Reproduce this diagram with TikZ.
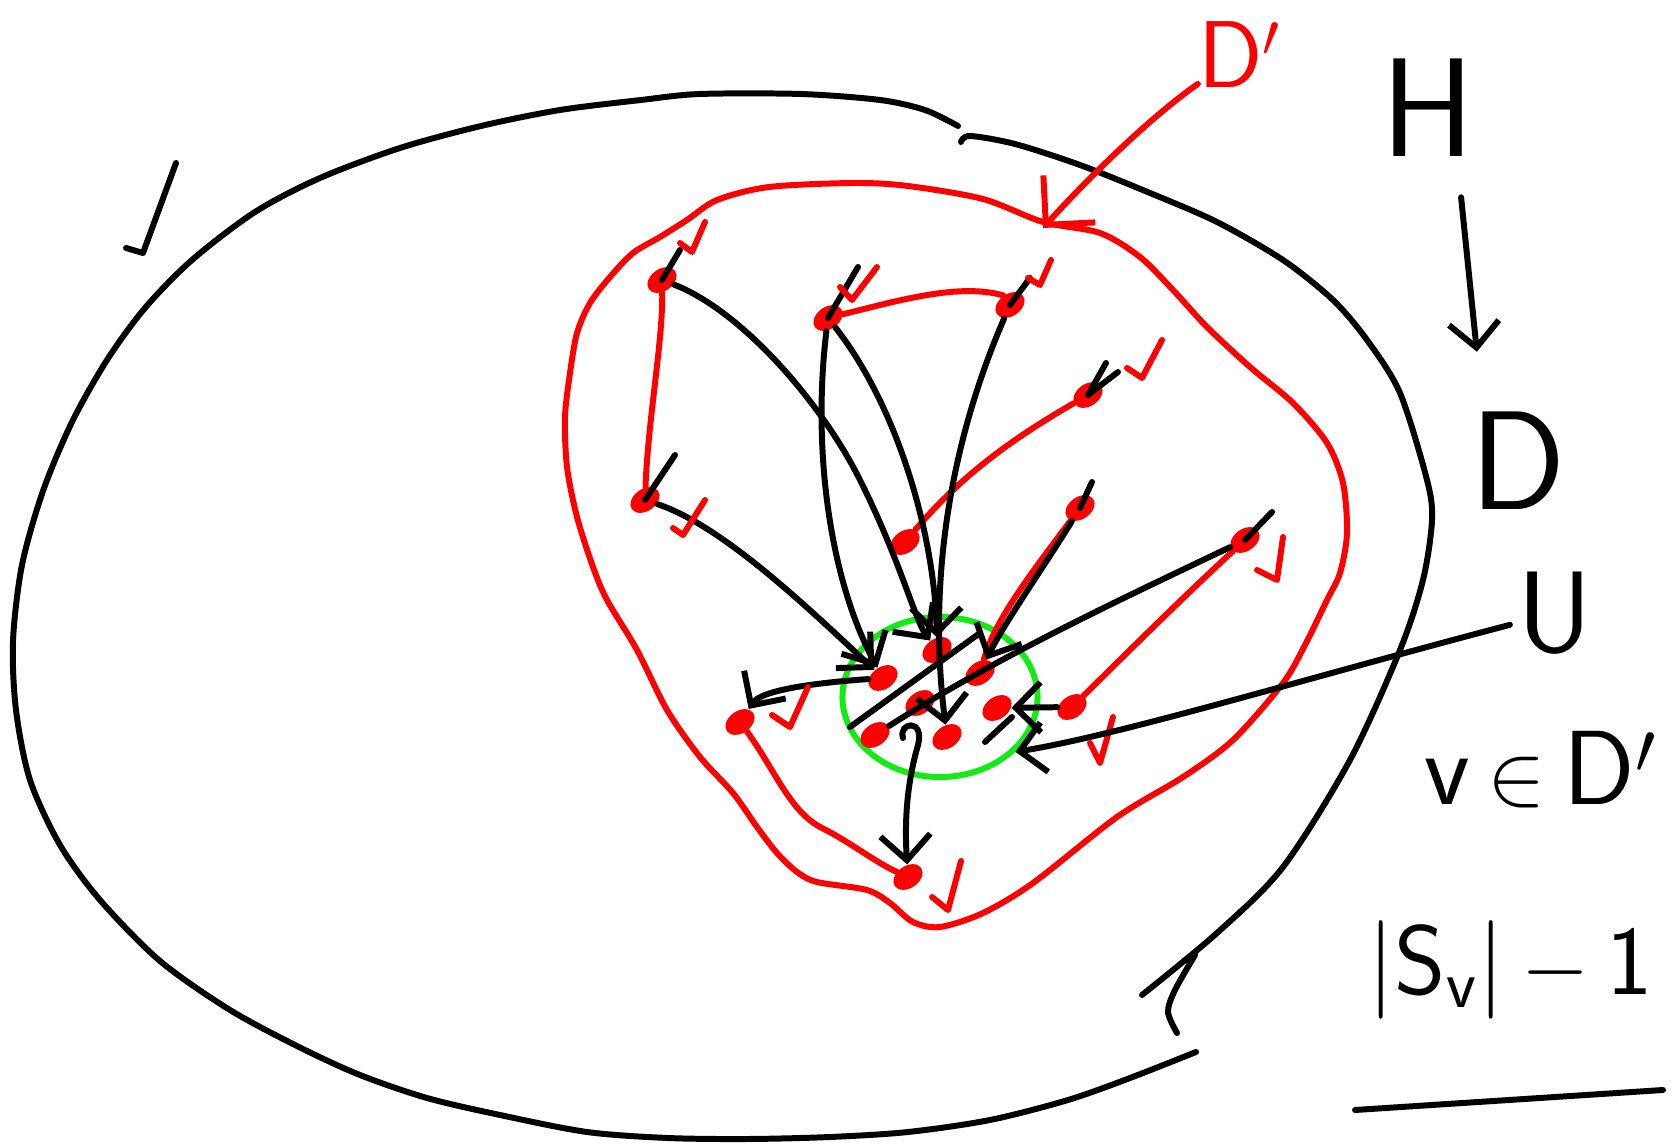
\documentclass[tikz,border=0pt]{standalone}
\usetikzlibrary{shapes.geometric, arrows.meta}
\definecolor{inkgreen}{RGB}{20,235,20}

\begin{document}
\begin{tikzpicture}[
    x=0.01cm, y=-0.01cm,
    ink/.style={line width=1.7pt, line cap=round, line join=round},
    link/.style={ink, -{Straight Barb[length=2.5mm, width=5mm]}},
    rlink/.style={ink, red, -{Straight Barb[length=3.5mm, width=7mm]}},
    vtx/.style={ellipse, fill=red, minimum width=0.32cm, minimum height=0.22cm, inner sep=0pt, rotate=35},
    ring/.style={ellipse, draw=inkgreen, line width=1.7pt, minimum width=1.95cm, minimum height=1.6cm, inner sep=0pt},
    hand/.style={inner sep=0pt, font=\sffamily}
]
\useasboundingbox (0,0) rectangle (1675,1146);

% outer set
\draw[ink] plot[smooth] coordinates {(958,126) (925,110) (880,100) (801,94) (700,94) (641,100) (560,110) (481,126) (400,148) (320,178) (255,212) (192,260) (145,308) (107,360) (72,422) (43,491) (22,565) (13,641) (16,710) (30,780) (60,845) (100,900) (160,961) (230,1010) (299,1047) (360,1075) (427,1098) (500,1115) (587,1132) (668,1138) (748,1139) (830,1137) (908,1132) (990,1120) (1068,1100) (1130,1078) (1196,1052)};
\draw[ink] plot[smooth] coordinates {(961,142) (970,136) (1015,144) (1080,165) (1150,193) (1217,222) (1283,260) (1333,300) (1367,340) (1400,393) (1427,480) (1432,520) (1423,580) (1400,650) (1350,760) (1283,867) (1217,933) (1142,995)};
\draw[ink] plot[smooth] coordinates {(1195,955) (1175,990) (1168,1012) (1177,1033)};
\draw[ink] (126,248) -- (143,253) -- (176,163);

% red region
\draw[ink, red] plot[smooth cycle] coordinates {(717,200) (769,187) (854,183) (908,186) (983,199) (1043,222) (1100,233) (1140,257) (1173,290) (1207,327) (1250,367) (1293,403) (1327,443) (1343,483) (1347,533) (1340,573) (1327,600) (1305,645) (1283,683) (1233,740) (1183,777) (1117,817) (1033,883) (983,913) (940,927) (913,922) (890,903) (867,890) (817,882) (797,872) (777,853) (757,827) (733,793) (700,757) (667,710) (637,650) (607,600) (593,567) (577,517) (567,467) (565,417) (570,373) (577,333) (590,303) (610,277) (633,253) (660,237) (687,220)};

% green core
\node[ring] (core) at (940,697) {};

% vertices
\node[vtx] (o1) at (662,280) {};
\node[vtx] (o2) at (828,318) {};
\node[vtx] (o3) at (1010,305) {};
\node[vtx] (o4) at (1088,395) {};
\node[vtx] (o5) at (645,500) {};
\node[vtx] (o6) at (905,542) {};
\node[vtx] (o7) at (1080,508) {};
\node[vtx] (o8) at (1245,540) {};
\node[vtx] (o9) at (1072,707) {};
\node[vtx] (o10) at (740,722) {};
\node[vtx] (o11) at (908,877) {};
\node[vtx] (c1) at (883,678) {};
\node[vtx] (c2) at (937,650) {};
\node[vtx] (c3) at (980,673) {};
\node[vtx] (c4) at (997,708) {};
\node[vtx] (c5) at (920,703) {};
\node[vtx] (c6) at (875,735) {};
\node[vtx] (c7) at (947,737) {};
\coordinate (hk) at (903,738);
\coordinate (redtip) at (1043,228);

% red edges
\draw[ink, red] (o1) .. controls (663,340) and (648,420) .. (o5);
\draw[ink, red] (o2) .. controls (900,300) and (960,283) .. (o3.north);
\draw[ink, red] (o6) .. controls (960,477) and (1010,440) .. (o4);
\draw[ink, red] (o7) .. controls (1030,575) and (995,620) .. (c3);
\draw[ink, red] (o8) .. controls (1180,600) and (1130,650) .. (o9);
\draw[ink, red] (o10) .. controls (775,770) and (790,812) .. (822,828) .. controls (850,842) and (875,862) .. (o11);

% black edges into the core
\draw[link] (o1) .. controls (740,310) and (820,400) .. (860,480) .. controls (900,560) and (915,620) .. (c2);
\draw[link] (o2) .. controls (812,450) and (830,580) .. (c1);
\draw[link] (o2) .. controls (900,410) and (935,540) .. (c2);
\draw[link] (o3) .. controls (960,420) and (925,560) .. (c7);
\draw[link] (o5) .. controls (720,525) and (800,600) .. (c1);
\draw[link] (o7) .. controls (1045,565) and (1003,625) .. (c3);
\draw[ink] (o8) .. controls (1130,595) and (1000,655) .. (c6);
\draw[link] (o9) -- (c4);
\draw[link] (c1) .. controls (800,684) and (760,692) .. (o10);
\draw[link] (hk) .. controls (898,722) and (925,718) .. (918,745) .. controls (905,790) and (905,830) .. (o11);
\draw[ink] (850,727) -- (980,633);
\draw[ink] (985,742) -- (1012,717);

% short black strokes at the vertices
\draw[ink] (o1.center) -- (680,250);
\draw[ink] (o2.center) -- (858,267);
\draw[ink] (o3.center) -- (1030,278);
\draw[ink] (o4.center) -- (1106,363);
\draw[ink] (o4.center) -- (1118,372);
\draw[ink] (o5.center) -- (675,455);
\draw[ink] (o7.center) -- (1092,482);
\draw[ink] (o8.center) -- (1272,512);

% ticks
\foreach \x/\y/\lx/\ly/\rx/\ry in {692/252/-12/-9/13/-30, 852/300/-12/-13/25/-33, 1040/285/-12/-7/11/-25, 683/535/-10/-7/22/-35, 1142/378/-15/-10/20/-38, 1277/580/-20/-10/6/-43, 1100/763/-10/-20/13/-46, 790/727/-18/-12/18/-40, 948/910/-16/-13/13/-49}
    \draw[ink, red] (\x+\lx,\y+\ly) -- (\x,\y) -- (\x+\rx,\y+\ry);

% labels
\node[hand, red, font=\sffamily\fontsize{27}{30}\selectfont] (Dp) at (1240,55) {D$'$};
\node[hand, font=\sffamily\fontsize{40}{46}\selectfont] (H) at (1428,108) {H};
\node[hand, font=\sffamily\fontsize{40}{46}\selectfont] (D) at (1518,461) {D};
\node[hand, inner sep=2pt, font=\sffamily\fontsize{33}{38}\selectfont] (U) at (1555,613) {U};
\node[hand, font=\sffamily\fontsize{30}{36}\selectfont] (vinD) at (1541,770) {v\,$\in$\,D$'$};
\node[hand, font=\sffamily\fontsize{28}{34}\selectfont] (Sv) at (1510,970) {|S\textsubscript{v}|\,$-$\,1};
\draw[ink] (1355,1110) -- (1663,1090);

\draw[rlink] (Dp) .. controls (1160,110) and (1100,165) .. (redtip);
\draw[link, shorten <=0.4cm, shorten >=0.6cm] ([xshift=0.29cm]H.south) -- ([xshift=-0.35cm]D.north);
\draw[link] (U) .. controls (1300,680) and (1120,735) .. (core.-36);

\end{tikzpicture}
\end{document}
